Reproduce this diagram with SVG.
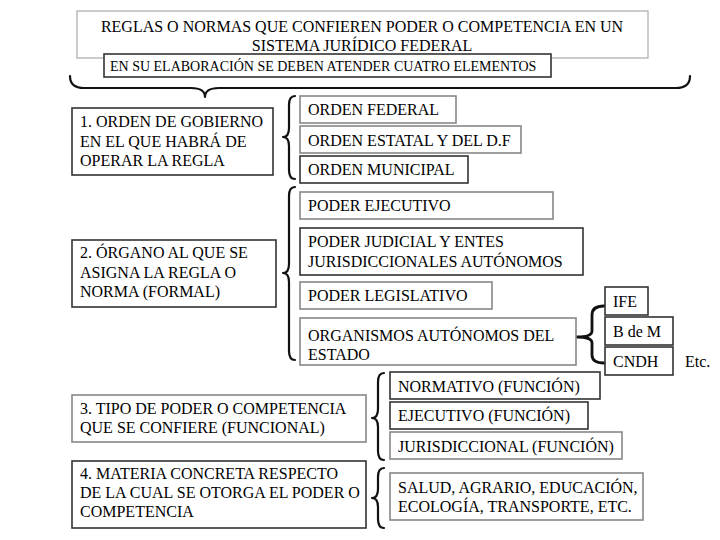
<svg xmlns="http://www.w3.org/2000/svg" width="720" height="540" viewBox="0 0 720 540">
<style>
text{font-size:16px;fill:#000}
.s{font-size:14px}
rect{fill:#fff;stroke:#333;stroke-width:1.6}
.g{stroke:#888}
.lg{stroke:#aaa;stroke-width:1.2}
.br{fill:none;stroke:#111;stroke-width:2.2;stroke-linecap:round;stroke-linejoin:round}
</style>
<rect width="720" height="540" style="fill:#fff;stroke:none"/>
<g font-family="Liberation Serif, Times New Roman, DejaVu Serif, serif">
<g id="title">
<rect class="lg" x="77" y="11" width="571" height="47"/>
<text x="362" y="32" text-anchor="middle">REGLAS O NORMAS QUE CONFIEREN PODER O COMPETENCIA EN UN</text>
<text x="362" y="51" text-anchor="middle">SISTEMA JURÍDICO FEDERAL</text>
</g>
<g id="subtitle">
<rect x="104" y="54" width="447" height="23"/>
<text class="s" x="110" y="71">EN SU ELABORACIÓN SE DEBEN ATENDER CUATRO ELEMENTOS</text>
</g>
<g id="connectors">
<path class="br" d="M70,76 Q70,88 84,88 L191,88 Q205,88 205,97 Q205,88 219,88 L676,88 Q690,88 690,76"/>
<path class="br" d="M295,96 Q289,96 289,105 L289,128 Q289,137 283,137 Q289,137 289,146 L289,170 Q289,179 295,179"/>
<path class="br" d="M295,187 Q289,187 289,196 L289,264 Q289,273 283,273 Q289,273 289,282 L289,351 Q289,360 295,360"/>
<path class="br" style="stroke-width:2.8" d="M604,306 Q592,306 592,315 L592,331 Q592,337 577,337 Q592,337 592,343 L592,355 Q592,363 604,363"/>
<path class="br" d="M384,373 Q378,373 378,382 L378,409 Q378,418 372,418 Q378,418 378,427 L378,451 Q378,460 384,460"/>
<path class="br" d="M384,468 Q378,468 378,477 L378,489 Q378,498 372,498 Q378,498 378,507 L378,519 Q378,528 384,528"/>
</g>
<g id="n1">
<rect x="72" y="108" width="201" height="67"/>
<text x="80" y="127">1. ORDEN DE GOBIERNO</text>
<text x="80" y="147">EN EL QUE HABRÁ DE</text>
<text x="80" y="166">OPERAR LA REGLA</text>
</g>
<g id="n1a"><rect class="g" x="300" y="96" width="156" height="27"/><text x="308" y="115">ORDEN FEDERAL</text></g>
<g id="n1b"><rect class="g" x="300" y="126" width="221" height="27"/><text x="308" y="146">ORDEN ESTATAL Y DEL D.F</text></g>
<g id="n1c"><rect x="300" y="156" width="168" height="27"/><text x="308" y="175">ORDEN MUNICIPAL</text></g>
<g id="n2">
<rect x="72" y="240" width="204" height="67"/>
<text x="80" y="258">2. ÓRGANO AL QUE SE</text>
<text x="80" y="278">ASIGNA LA REGLA O</text>
<text x="80" y="297">NORMA (FORMAL)</text>
</g>
<g id="n2a"><rect class="g" x="300" y="192" width="253" height="27"/><text x="308" y="211">PODER EJECUTIVO</text></g>
<g id="n2b"><rect x="300" y="228" width="283" height="47"/><text x="308" y="247">PODER JUDICIAL Y ENTES</text><text x="308" y="267">JURISDICCIONALES AUTÓNOMOS</text></g>
<g id="n2c"><rect class="g" x="300" y="282" width="192" height="27"/><text x="308" y="301">PODER LEGISLATIVO</text></g>
<g id="n2d"><rect class="g" x="300" y="318" width="276" height="47"/><text x="308" y="341">ORGANISMOS AUTÓNOMOS DEL</text><text x="308" y="360">ESTADO</text></g>
<g id="ife"><rect x="605" y="287" width="43" height="28"/><text x="613" y="307">IFE</text></g>
<g id="bdem"><rect x="605" y="317" width="68" height="28"/><text x="613" y="337">B de M</text></g>
<g id="cndh"><rect x="605" y="347" width="68" height="28"/><text x="613" y="367">CNDH</text></g>
<text x="685" y="367">Etc.</text>
<g id="n3">
<rect class="g" x="72" y="395" width="294" height="47"/>
<text x="80" y="414">3. TIPO DE PODER O COMPETENCIA</text>
<text x="80" y="433">QUE SE CONFIERE (FUNCIONAL)</text>
</g>
<g id="n3a"><rect x="390" y="372" width="210" height="27"/><text x="398" y="392">NORMATIVO (FUNCIÓN)</text></g>
<g id="n3b"><rect x="390" y="402" width="198" height="27"/><text x="398" y="421">EJECUTIVO (FUNCIÓN)</text></g>
<g id="n3c"><rect class="g" x="390" y="432" width="232" height="27"/><text x="398" y="452">JURISDICCIONAL (FUNCIÓN)</text></g>
<g id="n4">
<rect x="72" y="461" width="294" height="67"/>
<text x="80" y="479">4. MATERIA CONCRETA RESPECTO</text>
<text x="80" y="498">DE LA CUAL SE OTORGA EL PODER O</text>
<text x="80" y="517">COMPETENCIA</text>
</g>
<g id="n4a"><rect class="g" x="390" y="473" width="253" height="47"/><text x="398" y="493">SALUD, AGRARIO, EDUCACIÓN,</text><text x="398" y="512">ECOLOGÍA, TRANSPORTE, ETC.</text></g>
</g>
</svg>
